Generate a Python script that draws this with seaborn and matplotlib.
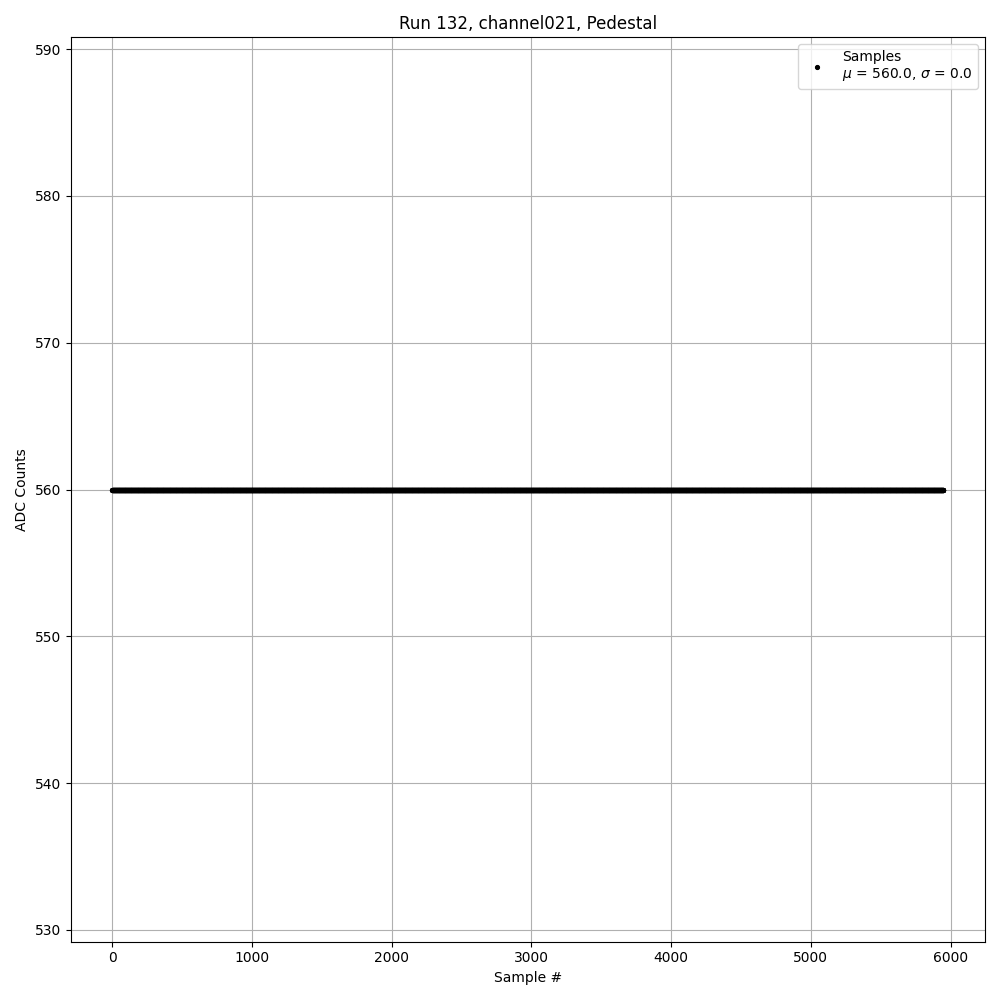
import numpy as np
import pandas as pd
import matplotlib
matplotlib.use('Agg')
import matplotlib.pyplot as plt
import seaborn as sns

# DATA: pedestal run, every sample reads 560 ADC counts
n_samples = 5950
sample_idx = np.arange(n_samples)
adc_counts = np.full(n_samples, 560.0)

df = pd.DataFrame({'sample': sample_idx, 'adc': adc_counts})
mu = df['adc'].mean()
sigma = df['adc'].std(ddof=0)

# plain matplotlib look (black text, grey grid)
plt.rcdefaults()
plt.rcParams['font.family'] = ['DejaVu Sans']

fig, ax = plt.subplots(figsize=(10, 10), dpi=100)
sns.lineplot(data=df, x='sample', y='adc', estimator=None, marker='.', linestyle='',
             color='k', markersize=6, markeredgecolor='k', ax=ax,
             label='Samples\n$\\mu$ = %.1f, $\\sigma$ = %.1f' % (mu, sigma))
ax.grid(True)
ax.set_title('Run 132, channel021, Pedestal')
ax.set_xlabel('Sample #')
ax.set_ylabel('ADC Counts')
ax.legend(loc='upper right')
plt.tight_layout()
plt.savefig('out.png', dpi=100)
plt.close()
